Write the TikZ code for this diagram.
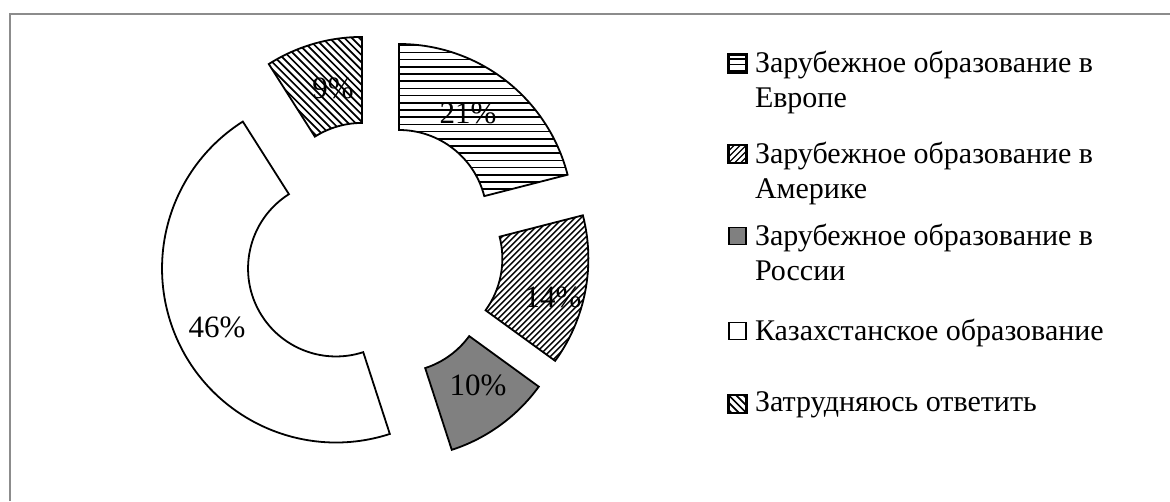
\documentclass[tikz,border=0pt]{standalone}
\usepackage{fontspec}
\setmainfont{Liberation Serif}
\usepackage{xcolor}

\definecolor{framegray}{HTML}{8C8C8C}
\definecolor{rusgray}{HTML}{808080}

\def\Rout{174}
\def\Rin{88}
\def\expl{41.5}

% hatching, drawn inside a clip
\newcommand{\hatchhoriz}{\foreach \k in {-27,...,27} \draw[hatchline] (-200,\k*7.2) -- (200,\k*7.2);}
\newcommand{\hatchrise}{\foreach \k in {-70,...,70} \draw[hatchline, line width=1.4pt] (\k*6-200,-200) -- (\k*6+200,200);}
\newcommand{\hatchfall}{\foreach \k in {-55,...,55} \draw[hatchline, line width=1.7pt] (\k*7.4-200,200) -- (\k*7.4+200,-200);}

\tikzset{
    seg/.style={draw=black, line width=1.8pt, line join=miter},
    ring/.style 2 args={insert path={(#1:\Rout) arc[start angle=#1, end angle=#2, radius=\Rout] -- (#2:\Rin) arc[start angle=#2, end angle=#1, radius=\Rin] -- cycle}},
    hatchline/.style={draw=black, line width=1.5pt},
    pct/.style={font=\fontsize{31}{36}\selectfont, inner sep=0pt},
    legbox/.style={draw=black, line width=1.6pt, minimum size=17pt, inner sep=0pt},
    legtext/.style={font=\fontsize{30}{35}\selectfont, align=left, inner sep=0pt, anchor=north west},
    frame/.style={draw=framegray, line width=1.8pt}
}

\begin{document}
\begin{tikzpicture}[x=1pt, y=1pt]
        \useasboundingbox (0,0) rectangle (1170,501);
        \draw[frame] (9.8,0) -- (9.8,486.8) -- (1170,486.8);

        % donut
        \begin{scope}[shift={(373.6,250.2)}]
            \begin{scope}[shift={(52.2:\expl)}]
                \clip[ring={90}{14.4}];
                \hatchhoriz
            \end{scope}
            \draw[seg, shift={(52.2:\expl)}, ring={90}{14.4}];

            \begin{scope}[shift={(-10.8:\expl)}]
                \clip[ring={14.4}{-36}];
                \hatchrise
            \end{scope}
            \draw[seg, shift={(-10.8:\expl)}, ring={14.4}{-36}];

            \draw[seg, fill=rusgray, shift={(-54:\expl)}, ring={-36}{-72}];
            \draw[seg, fill=white, shift={(-154.8:\expl)}, ring={-72}{-237.6}];

            \begin{scope}[shift={(106.2:\expl)}]
                \clip[ring={122.4}{90}];
                \hatchfall
            \end{scope}
            \draw[seg, shift={(106.2:\expl)}, ring={122.4}{90}];

            \node[pct] (pEur) at (94.4, 137.8) {21\%};
            \node[pct] (pAme) at (179.4, -46.2) {14\%};
            \node[pct] (pRus) at (104.4, -134.2) {10\%};
            \node[pct] (pKaz) at (-156.6, -76.2) {46\%};
            \node[pct] (pDif) at (-40.6, 162.8) {9\%};
        \end{scope}

        % legend
        \node[legbox] (mEur) at (737.5, 437.5) {};
        \node[legbox] (mAme) at (737.5, 347) {};
        \node[legbox, fill=rusgray] (mRus) at (737.5, 265) {};
        \node[legbox, fill=white] (mKaz) at (737.5, 170) {};
        \node[legbox] (mDif) at (737.5, 97) {};

        \begin{scope}
            \clip (mEur.south west) rectangle (mEur.north east);
            \begin{scope}[shift={(mEur.center)}, yshift=-1.2pt]
                \foreach \k in {-1,0,1} \draw[hatchline, line width=1.4pt] (-20,\k*5.6) -- (20,\k*5.6);
            \end{scope}
        \end{scope}
        \draw[legbox] (mEur.south west) rectangle (mEur.north east);
        \begin{scope}
            \clip (mAme.south west) rectangle (mAme.north east);
            \begin{scope}[shift={(mAme.center)}]
                \hatchrise
            \end{scope}
        \end{scope}
        \draw[legbox] (mAme.south west) rectangle (mAme.north east);
        \begin{scope}
            \clip (mDif.south west) rectangle (mDif.north east);
            \begin{scope}[shift={(mDif.center)}]
                \hatchfall
            \end{scope}
        \end{scope}
        \draw[legbox] (mDif.south west) rectangle (mDif.north east);

        \node[legtext] (tEur) at ([xshift=8pt, yshift=3pt]mEur.north east) {Зарубежное образование в\\Европе};
        \node[legtext] (tAme) at ([xshift=8pt, yshift=3pt]mAme.north east) {Зарубежное образование в\\Америке};
        \node[legtext] (tRus) at ([xshift=8pt, yshift=3pt]mRus.north east) {Зарубежное образование в\\России};
        \node[legtext] (tKaz) at ([xshift=8pt, yshift=3pt]mKaz.north east) {Казахстанское образование};
        \node[legtext] (tDif) at ([xshift=8pt, yshift=3pt]mDif.north east) {Затрудняюсь ответить};
    \end{tikzpicture}
\end{document}
